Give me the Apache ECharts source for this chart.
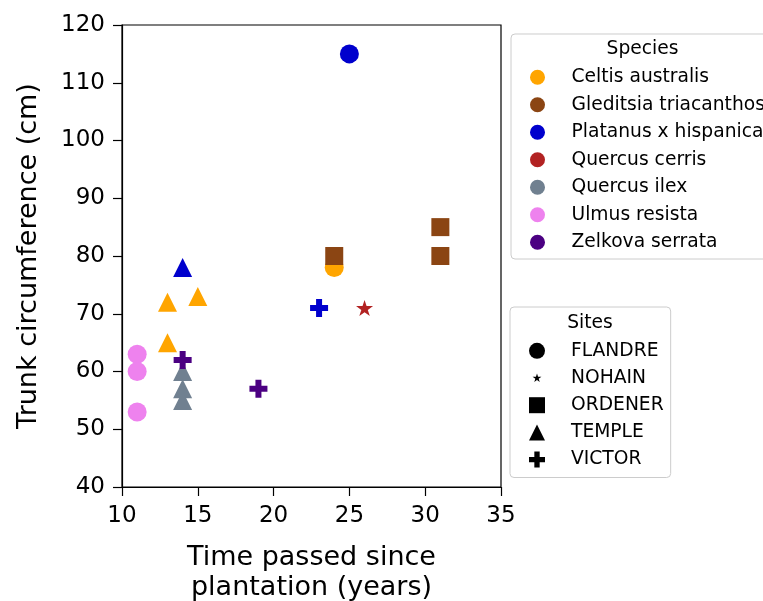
<!DOCTYPE html>
<html>
<head>
<meta charset="utf-8">
<script src="https://cdn.jsdelivr.net/npm/echarts@6/dist/echarts.min.js"></script>
<style>
html,body{margin:0;padding:0;background:#fff;}
#chart{width:763px;height:601px;}
</style>
</head>
<body>
<div id="chart"></div>
<script>
// ---- data ----
const speciesNames = ['Celtis australis','Gleditsia triacanthos','Platanus x hispanica','Quercus cerris','Quercus ilex','Ulmus resista','Zelkova serrata'];
const siteNames = ['FLANDRE','NOHAIN','ORDENER','TEMPLE','VICTOR'];
const treeSpecies = ['Celtis australis','Celtis australis','Celtis australis','Celtis australis',
  'Gleditsia triacanthos','Gleditsia triacanthos','Gleditsia triacanthos',
  'Platanus x hispanica','Platanus x hispanica','Platanus x hispanica',
  'Quercus cerris',
  'Quercus ilex','Quercus ilex','Quercus ilex',
  'Ulmus resista','Ulmus resista','Ulmus resista',
  'Zelkova serrata','Zelkova serrata'];
const treeSite = ['FLANDRE','TEMPLE','TEMPLE','TEMPLE',
  'ORDENER','ORDENER','ORDENER',
  'FLANDRE','TEMPLE','VICTOR',
  'NOHAIN',
  'TEMPLE','TEMPLE','TEMPLE',
  'FLANDRE','FLANDRE','FLANDRE',
  'VICTOR','VICTOR'];
const yearsSincePlantation = [24,13,15,13, 24,31,31, 25,14,23, 26, 14,14,14, 11,11,11, 14,19];
const trunkCircumference = [78,72,73,65, 80,85,80, 115,78,71, 71, 60,57,55, 63,60,53, 62,57];
const xTicks = {min:10, max:35, interval:5};
const yTicks = {min:40, max:120, interval:10};

// ---- styles ----
const speciesColors = ['#FFA500','#8B4513','#0000CD','#B22222','#708090','#EE82EE','#4B0082'];
const STAR = 'path://M100,0 L122.45,69.1 L195.11,69.1 L136.33,111.8 L158.78,180.9 L100,138.2 L41.22,180.9 L63.67,111.8 L4.89,69.1 L77.55,69.1 Z';
const STAR_SMALL = 'path://M-73,-78 M273,268 M100,0 L122.45,69.1 L195.11,69.1 L136.33,111.8 L158.78,180.9 L100,138.2 L41.22,180.9 L63.67,111.8 L4.89,69.1 L77.55,69.1 Z';
const PLUS = 'path://M1,0H2V1H3V2H2V3H1V2H0V1H1Z';
const siteSymbols = {FLANDRE:'circle', NOHAIN:STAR, ORDENER:'rect', TEMPLE:'triangle', VICTOR:PLUS};
const siteLegendIcons = {FLANDRE:'circle', NOHAIN:STAR_SMALL, ORDENER:'rect', TEMPLE:'triangle', VICTOR:PLUS};
const siteSizes = {FLANDRE:19, NOHAIN:17, ORDENER:18, TEMPLE:19, VICTOR:18};
const FONT = 'DejaVu Sans';

const series = [];
// legend-only series
speciesNames.forEach((s, i) => {
  series.push({type:'scatter', name:s, data:[], symbol:'circle', itemStyle:{color:speciesColors[i], opacity:1}});
});
siteNames.forEach(st => {
  series.push({type:'scatter', name:st, data:[], symbol:siteLegendIcons[st], itemStyle:{color:'#000', opacity:1}});
});
// data series
speciesNames.forEach((s, i) => {
  siteNames.forEach(st => {
    const pts = [];
    for (let k = 0; k < treeSpecies.length; k++) {
      if (treeSpecies[k] === s && treeSite[k] === st) pts.push([yearsSincePlantation[k], trunkCircumference[k]]);
    }
    if (pts.length) {
      series.push({
        type:'scatter', name:s + ' / ' + st, data:pts,
        symbol:siteSymbols[st], symbolSize:siteSizes[st], symbolKeepAspect:true,
        itemStyle:{color:speciesColors[i], opacity:1},
        emphasis:{disabled:true}
      });
    }
  });
});

const legendCommon = {
  orient:'vertical', selectedMode:false,
  borderColor:'#cccccc', borderWidth:1, borderRadius:4, backgroundColor:'rgba(255,255,255,0.8)',
  itemStyle:{opacity:1}
};

const chart = echarts.init(document.getElementById('chart'), null, {renderer:'canvas'});
chart.setOption({
  animation:false,
  backgroundColor:'#fff',
  grid:{left:122, top:25, width:379, height:462, containLabel:false, outerBoundsMode:'none',
        show:true, borderColor:'#000', borderWidth:1.2, backgroundColor:'transparent'},
  xAxis:{
    type:'value', min:xTicks.min, max:xTicks.max, interval:xTicks.interval,
    name:'Time passed since\nplantation (years)', nameLocation:'middle', nameGap:56,
    nameTextStyle:{fontSize:27, fontFamily:FONT, color:'#000', lineHeight:30, align:'center'},
    axisLine:{onZero:false, lineStyle:{color:'#000', width:1.2}},
    axisTick:{show:true, length:9, lineStyle:{color:'#000', width:1.2}},
    axisLabel:{fontSize:23, fontFamily:FONT, color:'#000', margin:18},
    splitLine:{show:false}
  },
  yAxis:{
    type:'value', min:yTicks.min, max:yTicks.max, interval:yTicks.interval,
    name:'Trunk circumference (cm)', nameLocation:'middle', nameGap:80,
    nameTextStyle:{fontSize:27, fontFamily:FONT, color:'#000'},
    axisLine:{onZero:false, lineStyle:{color:'#000', width:1.2}},
    axisTick:{show:true, length:9, lineStyle:{color:'#000', width:1.2}},
    axisLabel:{fontSize:23, fontFamily:FONT, color:'#000', margin:17},
    splitLine:{show:false}
  },
  legend:[
    Object.assign({}, legendCommon, {
      left:511, top:34,
      data:speciesNames.map((n, i) => ({name:n, icon:'circle', itemStyle:{color:speciesColors[i], opacity:1}})),
      itemWidth:15, itemHeight:15, itemGap:8.5,
      padding:[33.7, 8, 7.3, 19],
      textStyle:{fontSize:18.7, fontFamily:FONT, color:'#000', lineHeight:18, padding:[0,0,0,21.5]}
    }),
    Object.assign({}, legendCommon, {
      left:510, top:307,
      data:siteNames.map(n => ({name:n, icon:siteLegendIcons[n], itemStyle:{color:'#000', opacity:1}})),
      itemWidth:16, itemHeight:16, itemGap:8.2,
      padding:[34.3, 7, 8.4, 19],
      textStyle:{fontSize:18.7, fontFamily:FONT, color:'#000', lineHeight:18, padding:[0,0,0,21]}
    })
  ],
  graphic:[
    {type:'text', x:642.5, y:49, z:100, style:{text:'Species', fontSize:18.7, fontFamily:FONT, fill:'#000', align:'center', verticalAlign:'middle'}},
    {type:'text', x:590, y:322.7, z:100, style:{text:'Sites', fontSize:18.7, fontFamily:FONT, fill:'#000', align:'center', verticalAlign:'middle'}}
  ],
  series:series
});
</script>
</body>
</html>
